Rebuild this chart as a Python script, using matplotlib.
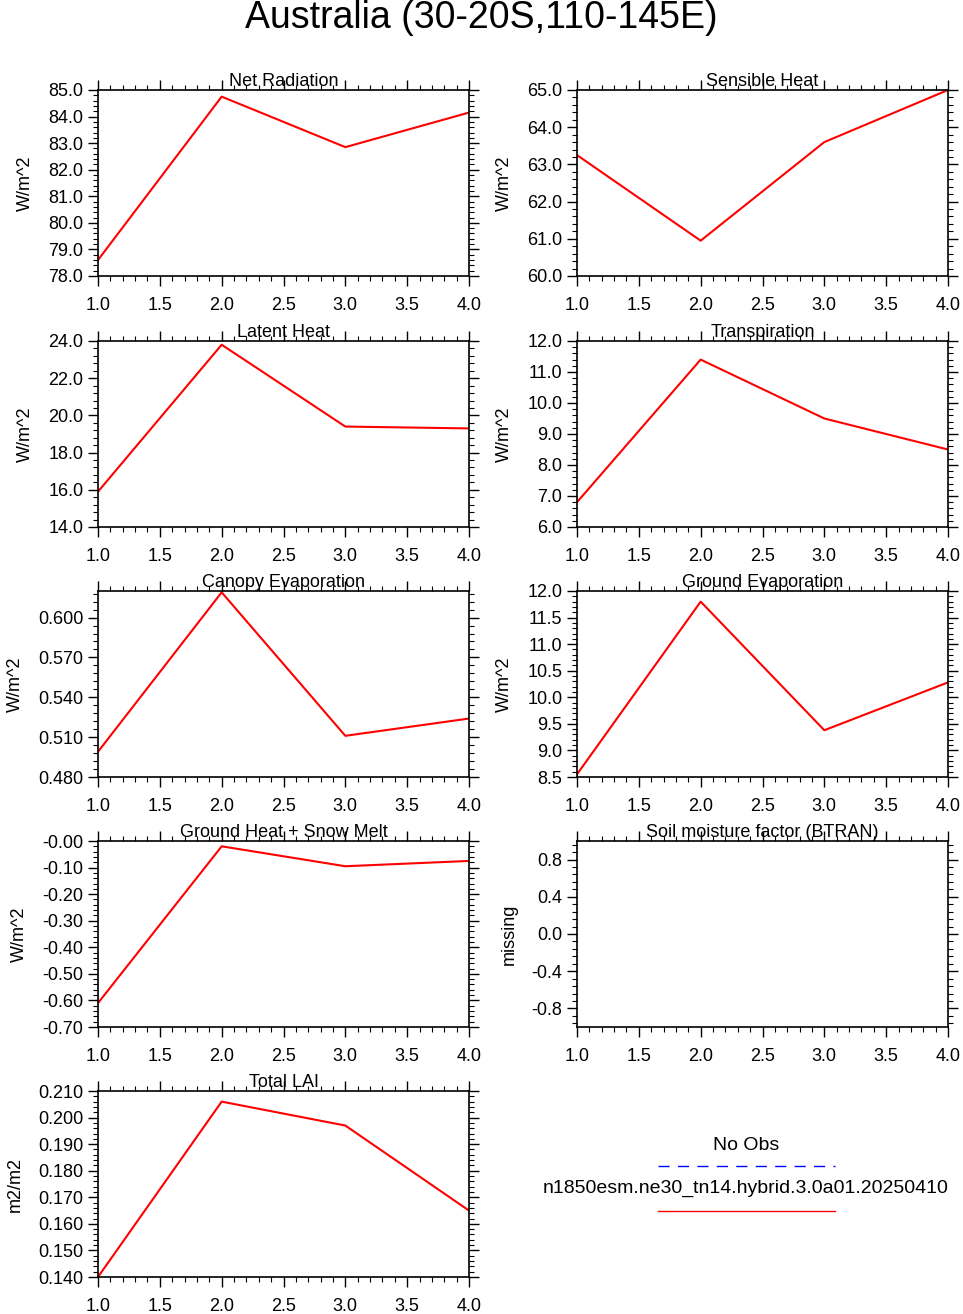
import numpy as np
import matplotlib.pyplot as plt
from matplotlib.ticker import FormatStrFormatter, AutoMinorLocator
from matplotlib.lines import Line2D

plt.rcParams['font.family'] = ['Liberation Sans', 'DejaVu Sans']

x = [1.0, 2.0, 3.0, 4.0]
net_rad = [78.6, 84.75, 82.85, 84.15]
sens_heat = [63.25, 60.95, 63.6, 65.0]
lat_heat = [15.9, 23.8, 19.4, 19.3]
transp = [6.8, 11.4, 9.5, 8.5]
can_evap = [0.499, 0.619, 0.511, 0.524]
gnd_evap = [8.55, 11.8, 9.38, 10.28]
gnd_heat = [-0.61, -0.02, -0.095, -0.075]
lai = [0.140, 0.206, 0.197, 0.165]

panels = [
    ("Net Radiation", net_rad, "W/m^2", (78, 85), np.arange(78, 85.01, 1), "%.1f"),
    ("Sensible Heat", sens_heat, "W/m^2", (60, 65), np.arange(60, 65.01, 1), "%.1f"),
    ("Latent Heat", lat_heat, "W/m^2", (14, 24), np.arange(14, 24.01, 2), "%.1f"),
    ("Transpiration", transp, "W/m^2", (6, 12), np.arange(6, 12.01, 1), "%.1f"),
    ("Canopy Evaporation", can_evap, "W/m^2", (0.48, 0.62), np.arange(0.48, 0.601, 0.03), "%.3f"),
    ("Ground Evaporation", gnd_evap, "W/m^2", (8.5, 12), np.arange(8.5, 12.01, 0.5), "%.1f"),
    ("Ground Heat + Snow Melt", gnd_heat, "W/m^2", (-0.7, 0), np.arange(-0.7, 0.001, 0.1), "%.2f"),
    ("Soil moisture factor (BTRAN)", None, "missing", (-1, 1), np.arange(-0.8, 0.81, 0.4), "%.1f"),
    ("Total LAI", lai, "m2/m2", (0.14, 0.21), np.arange(0.14, 0.2101, 0.01), "%.3f"),
]

W, H = 963, 1314
fig = plt.figure(figsize=(W / 100, H / 100), dpi=100)
fig.text(0.5, 1 - 18 / H, "Australia (30-20S,110-145E)", ha="center", va="center", fontsize=27)

lefts = [98, 577]
tops = [90, 341, 591, 841, 1091]
pw, ph = 371, 186

for i, (title, y, ylab, ylim, yt, fmt) in enumerate(panels):
    col, row = i % 2, i // 2
    ax = fig.add_axes([lefts[col] / W, 1 - (tops[row] + ph) / H, pw / W, ph / H])
    if y is not None:
        ax.plot(x, y, color="red", lw=1.5)
    ax.set_xlim(1, 4)
    ax.set_ylim(*ylim)
    ax.set_xticks(np.arange(1, 4.01, 0.5))
    ax.xaxis.set_major_formatter(FormatStrFormatter("%.1f"))
    ax.set_yticks(yt)
    ax.yaxis.set_major_formatter(FormatStrFormatter(fmt))
    ax.xaxis.set_minor_locator(AutoMinorLocator(5))
    ax.yaxis.set_minor_locator(AutoMinorLocator(5))
    ax.tick_params(which="both", direction="out", top=True, right=True, labelsize=13)
    ax.tick_params(which="major", length=7, width=1)
    ax.tick_params(which="minor", length=3.5, width=0.8)
    ax.tick_params(axis="x", which="major", pad=8)
    ax.set_ylabel(ylab, fontsize=13, labelpad=10)
    ax.set_title(title, fontsize=13, pad=1)
    for s in ax.spines.values():
        s.set_linewidth(1.2)

fig.text(746 / W, 1 - 1146 / H, "No Obs", ha="center", va="center", fontsize=14)
fig.text(746 / W, 1 - 1188 / H, "n1850esm.ne30_tn14.hybrid.3.0a01.20250410",
         ha="center", va="center", fontsize=14)
fig.add_artist(Line2D([658 / W, 835 / W], [1 - 1166 / H] * 2, color="blue", lw=1,
                      ls=(0, (8, 6)), transform=fig.transFigure))
fig.add_artist(Line2D([658 / W, 835 / W], [1 - 1211 / H] * 2, color="red", lw=1,
                      transform=fig.transFigure))

fig.savefig("out.png", dpi=100)
